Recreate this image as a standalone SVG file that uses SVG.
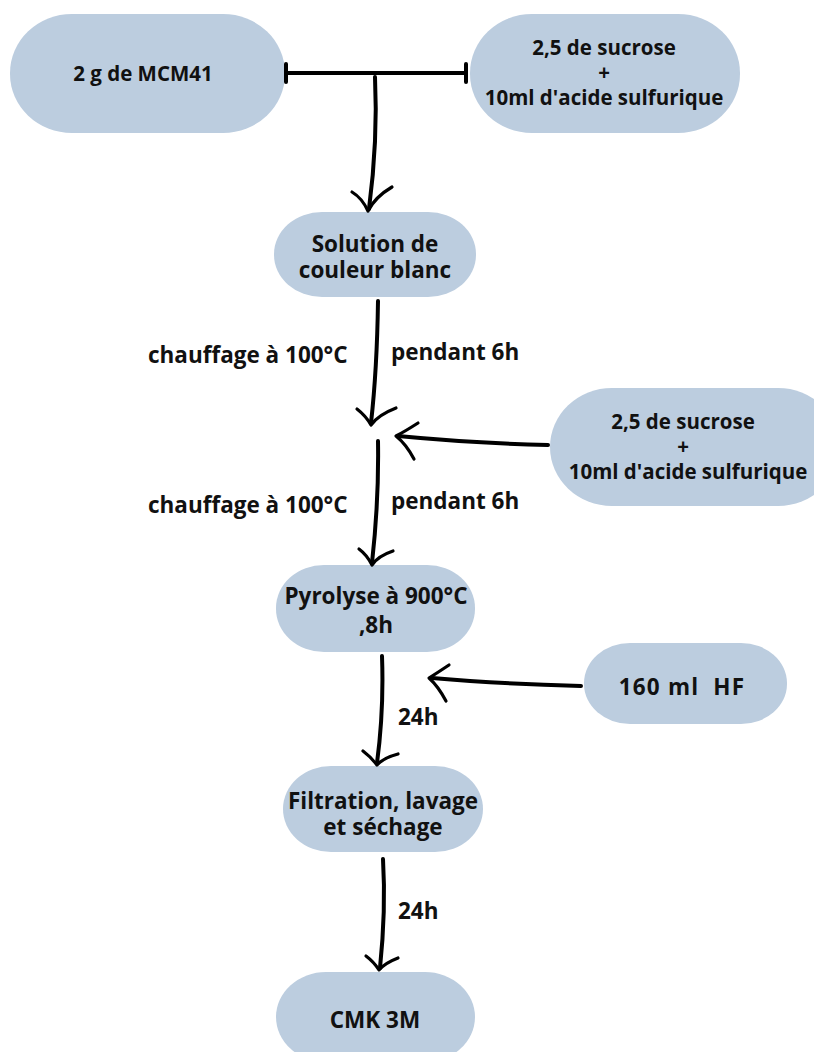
<svg xmlns="http://www.w3.org/2000/svg" width="814" height="1052" viewBox="0 0 814 1052">
<style>
.node{fill:#bccddf;}
.t{font-family:"Open Sans","Liberation Sans",sans-serif;font-weight:bold;font-size:22.5px;fill:#111;text-anchor:middle;}
.t2{font-family:"Open Sans","Liberation Sans",sans-serif;font-weight:bold;font-size:20.5px;fill:#111;text-anchor:middle;}
.lbl{font-family:"Open Sans","Liberation Sans",sans-serif;font-weight:bold;font-size:22.5px;fill:#111;}
.ln{fill:none;stroke:#000;stroke-width:4;stroke-linecap:round;stroke-linejoin:round;}
.hd{fill:none;stroke:#000;stroke-width:3.2;stroke-linecap:round;stroke-linejoin:round;}
</style>
<rect width="814" height="1052" fill="#fff"/>
<g id="n1"><rect class="node" x="10" y="14" width="275" height="119" rx="62" ry="59"/><text class="t2" x="143" y="81">2 g de MCM41</text></g>
<g id="n2"><rect class="node" x="470" y="14" width="270" height="119" rx="62" ry="59"/><text class="t2" x="604" y="55">2,5 de sucrose</text><text class="t2" x="604" y="80">+</text><text class="t2" x="604" y="105">10ml d'acide sulfurique</text></g>
<g id="n3"><rect class="node" x="274" y="212" width="202" height="85" rx="48" ry="42"/><text class="t" x="375" y="252">Solution de</text><text class="t" x="375" y="278">couleur blanc</text></g>
<g id="n4"><rect class="node" x="550" y="388" width="290" height="118" rx="62" ry="59"/><text class="t2" x="683" y="429">2,5 de sucrose</text><text class="t2" x="683" y="454">+</text><text class="t2" x="688" y="479">10ml d'acide sulfurique</text></g>
<g id="n5"><rect class="node" x="276" y="565" width="199" height="87" rx="48" ry="43"/><text class="t" x="376" y="604">Pyrolyse à 900°C</text><text class="t" x="376" y="633">,8h</text></g>
<g id="n6"><rect class="node" x="584" y="643" width="203" height="81" rx="46" ry="40"/><text class="t" x="682" y="695" style="letter-spacing:1.2px">160 ml &#160;HF</text></g>
<g id="n7"><rect class="node" x="283" y="766" width="200" height="86" rx="48" ry="43"/><text class="t" x="383" y="809">Filtration, lavage</text><text class="t" x="383" y="835">et séchage</text></g>
<g id="n8"><rect class="node" x="276" y="972" width="199" height="90" rx="50" ry="45"/><text class="t" x="375" y="1028">CMK 3M</text></g>
<g id="connectors">
<path class="ln" d="M286,73 L466,73"/>
<path class="ln" d="M286,64 L286,82 M466,64 L466,82"/>
<path class="ln" d="M375,77 Q378,140 369,209"/>
<path class="hd" d="M352,192 Q362,198 368,211 Q375,197 392,187"/>
<path class="ln" d="M378,301 Q377,370 371,423"/>
<path class="hd" d="M357,409 Q366,416 371,425 Q378,415 396,408"/>
<path class="ln" d="M548,445 Q470,443 398,436"/>
<path class="hd" d="M418,423 Q404,432 396,436 Q406,444 414,459"/>
<path class="ln" d="M378,441 Q379,500 372,563"/>
<path class="hd" d="M359,549 Q367,555 372,565 Q378,556 393,551"/>
<path class="ln" d="M382,656 Q384,710 377,763"/>
<path class="hd" d="M363,751 Q371,757 377,765 Q383,758 398,754"/>
<path class="ln" d="M581,686 Q500,684 432,678"/>
<path class="hd" d="M449,665 Q437,673 429,678 Q438,686 446,701"/>
<path class="ln" d="M383,859 Q386,910 380,968"/>
<path class="hd" d="M366,956 Q374,962 379,970 Q385,963 398,958"/>
</g>
<g id="labels">
<text class="lbl" x="148" y="363">chauffage à 100°C</text>
<text class="lbl" x="391" y="360">pendant 6h</text>
<text class="lbl" x="148" y="513">chauffage à 100°C</text>
<text class="lbl" x="391" y="509">pendant 6h</text>
<text class="lbl" x="398" y="725">24h</text>
<text class="lbl" x="398" y="919">24h</text>
</g>
</svg>
